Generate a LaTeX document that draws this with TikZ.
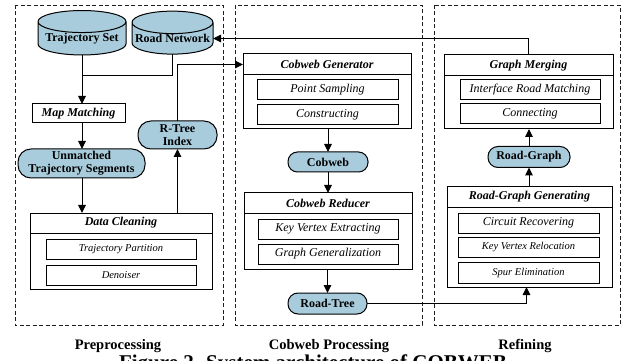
\documentclass[tikz,border=0pt]{standalone}
\usepackage{fontspec}
\setmainfont{Liberation Serif}
\usetikzlibrary{shapes.geometric,arrows.meta}
\definecolor{nodeblue}{RGB}{168,204,220}
\definecolor{inkgray}{RGB}{30,30,30}
\tikzset{
  every node/.style={inner sep=0pt, outer sep=0pt, align=center},
  frame/.style={draw=inkgray, dashed, dash pattern=on 4pt off 2.5pt, line width=0.6pt},
  store/.style={cylinder, shape border rotate=90, aspect=0.3, draw, line width=1pt,
    fill=nodeblue, font=\fontsize{12}{12}\selectfont\bfseries},
  pill/.style={draw, line width=1pt, fill=nodeblue, rounded corners=9.5pt,
    font=\fontsize{12}{13}\selectfont\bfseries},
  modbox/.style={draw, line width=1pt},
  modhead/.style={draw, line width=1pt, font=\fontsize{12}{12}\selectfont\bfseries\itshape},
  subbox/.style={draw, line width=1pt, minimum height=20pt, font=\fontsize{12}{12}\selectfont\itshape},
  smallsub/.style={subbox, font=\fontsize{10.5}{11}\selectfont\itshape},
  plainbox/.style={draw, line width=1pt, font=\fontsize{12}{12}\selectfont\bfseries\itshape},
  arr/.style={line width=1pt, -{Triangle[length=8pt,width=7.5pt]}},
  link/.style={line width=1pt},
  section/.style={anchor=base, font=\fontsize{14.5}{14.5}\selectfont\bfseries},
}
\begin{document}
\begin{tikzpicture}[x=1pt, y=-1pt]
\useasboundingbox (0,0) rectangle (625,361);
\clip (0,0) rectangle (625,361);

% three stage frames
\draw[frame] (15,5) rectangle (223,325);
\draw[frame] (235,5) rectangle (422,325);
\draw[frame] (434,5) rectangle (620,325);

% ---------- Preprocessing ----------
\node[store, minimum width=88pt, minimum height=43pt] (ts) at (82,38.5) {\raisebox{-3pt}{Trajectory Set}};
\node[store, minimum width=81pt, minimum height=43pt] (rn) at (172.5,38.5) {\raisebox{-3pt}{Road Network}};
\coordinate (jn) at (82,76);
\node[plainbox, minimum width=93pt, minimum height=19pt] (mm) at (78.5,113.5) {Map Matching};
\node[pill, minimum width=127pt, minimum height=29pt, rounded corners=13pt] (um) at (81.5,163.5)
  {Unmatched\\Trajectory Segments};
\node[pill, minimum width=79pt, minimum height=28pt, rounded corners=13pt] (rt) at (177.5,135)
  {R-Tree\\Index};
\node[modbox, minimum width=182pt, minimum height=76pt] (dc) at (121,251) {};
\node[modhead, minimum width=182pt, minimum height=20pt] (dch) at (121,223) {Data Cleaning};
\node[smallsub, minimum width=150pt] (tp) at (121,249) {Trajectory Partition};
\node[smallsub, minimum width=150pt] (dn) at (121,275) {Denoiser};

% ---------- Cobweb Processing ----------
\node[modbox, minimum width=168pt, minimum height=75pt] (cg) at (327,91.5) {};
\node[modhead, minimum width=168pt, minimum height=21pt] (cgh) at (327,64.5) {Cobweb Generator};
\node[subbox, minimum width=141pt] (ps) at (327.5,90) {Point Sampling};
\node[subbox, minimum width=141pt] (co) at (327.5,114.5) {Constructing};
\node[pill, minimum width=80pt, minimum height=20pt] (cw) at (328,162) {Cobweb};
\node[modbox, minimum width=168pt, minimum height=76pt] (cr) at (328,231) {};
\node[modhead, minimum width=168pt, minimum height=20pt] (crh) at (328,203) {Cobweb Reducer};
\node[subbox, minimum width=140pt] (kv) at (328,229) {Key Vertex Extracting};
\node[subbox, minimum width=140pt] (gg) at (328,254) {Graph Generalization};
\node[pill, minimum width=79pt, minimum height=21pt, rounded corners=10pt] (rtr) at (327.5,303.5) {Road-Tree};

% ---------- Refining ----------
\node[modbox, minimum width=169pt, minimum height=74pt] (gm) at (528.5,92) {};
\node[modhead, minimum width=169pt, minimum height=21pt] (gmh) at (528.5,65.5) {Graph Merging};
\node[subbox, minimum width=140pt] (irm) at (530,90) {Interface Road Matching};
\node[subbox, minimum width=140pt] (cn) at (530,114) {Connecting};
\node[pill, minimum width=82pt, minimum height=21pt, rounded corners=10pt] (rg) at (529,157) {Road-Graph};
\node[modbox, minimum width=165pt, minimum height=100pt] (rgg) at (529.5,237) {};
\node[modhead, minimum width=165pt, minimum height=20pt] (rggh) at (529.5,197) {Road-Graph Generating};
\node[subbox, minimum width=141pt] (cir) at (528.5,223) {Circuit Recovering};
\node[smallsub, minimum width=141pt] (kvr) at (528.5,247) {Key Vertex Relocation};
\node[smallsub, minimum width=141pt, minimum height=21pt] (se) at (528.5,272.5) {Spur Elimination};

% ---------- connectors ----------
\draw[arr] (ts.south) -- (ts.south |- mm.north);
\draw[link] (rn.south) |- (jn);
\draw[arr] (ts.south |- mm.south) -- (ts.south |- um.north);
\draw[arr] (ts.south |- um.south) -- (ts.south |- dch.north);
\draw[arr] (rt.south |- dch.north) -- (rt.south);
\draw[arr] (rt.north) |- (cgh.west);
\draw[arr] (cg.south -| cw.north) -- (cw.north);
\draw[arr] (cw.south) -- (cw.south |- crh.north);
\draw[arr] (cr.south -| rtr.north) -- (rtr.north);
\draw[arr] (rtr.east) -| ([xshift=-3pt]rgg.south);
\draw[arr] (rg.south |- rggh.north) -- (rg.south);
\draw[arr] (rg.north) -- (rg.north |- gm.south);
\draw[arr] (gmh.north) |- (rn.east);

% stage labels and caption
\node[section] (lp) at (118,349) {Preprocessing};
\node[section] (lc) at (329,349) {Cobweb Processing};
\node[section] (lr) at (525,349) {Refining};
\node[anchor=base, font=\fontsize{21}{21}\selectfont\bfseries] (cap) at (313,369)
  {Figure 2. System architecture of COBWEB};
\end{tikzpicture}
\end{document}
